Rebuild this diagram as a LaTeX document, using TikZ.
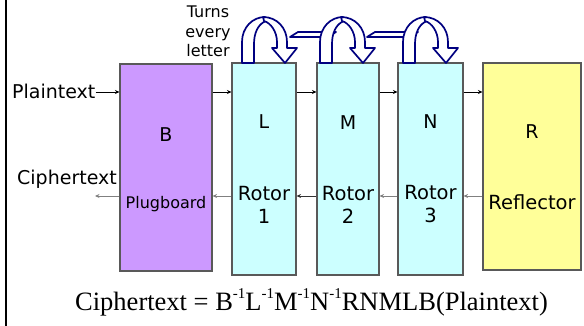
\documentclass[tikz,border=0pt]{standalone}
\usepackage{fontspec}
\usetikzlibrary{arrows.meta,calc}
\newfontfamily\vfont{DejaVu Sans}
\newfontfamily\tfont{Liberation Serif}
\definecolor{plug}{HTML}{CC99FF}
\definecolor{rot}{HTML}{CCFFFF}
\definecolor{refl}{HTML}{FFFF99}
\definecolor{navy}{HTML}{000080}
\newcommand\myinv{\raisebox{0.42em}{\fontsize{15}{15}\selectfont -1}}
\newcommand\turnarrow[1]{%
  \begin{scope}[shift={(#1,0)}]
    \draw[ribbon] (0,63) -- (0,42) .. controls (0,27) and (11,17) .. (23,17)
      -- (24,21) .. controls (16,24) and (12,33) .. (12,44) -- (12,63) -- cycle;
    \draw[ribbon] (21,17) .. controls (35,17) and (45,28) .. (45,42) -- (45,48)
      -- (55,48) -- (43,63) -- (30,48) -- (35,48) -- (35,42)
      .. controls (35,32) and (29,23) .. (22,21) -- cycle;
  \end{scope}}
\tikzset{
  box/.style={draw=black!65, line width=1.1pt, inner sep=0pt},
  lbl/.style={inner sep=0pt, font=\vfont\fontsize{19}{23}\selectfont},
  fwd/.style={line width=0.8pt, -{Stealth[length=4.5pt,width=4pt]}},
  ribbon/.style={draw=navy, fill=white, line width=1.7pt, line join=round},
}
\begin{document}
\begin{tikzpicture}[x=1pt,y=-1pt]
\useasboundingbox (0,0) rectangle (584,326);
\draw[line width=2pt] (6,0) -- (6,326);
% boxes
\node[box, fill=plug, minimum width=92pt, minimum height=207pt] (B) at (166,167.5) {};
\node[box, fill=rot, minimum width=64pt, minimum height=212pt] (L) at (264,169) {};
\node[box, fill=rot, minimum width=62pt, minimum height=212pt] (M) at (348,169) {};
\node[box, fill=rot, minimum width=65pt, minimum height=212pt] (N) at (430.5,169) {};
\node[box, fill=refl, minimum width=98pt, minimum height=207pt] (R) at (532,166.5) {};
% labels in boxes
\node[lbl, anchor=base] (Bt) at (166,142) {B};
\node[lbl, anchor=base, font=\vfont\fontsize{16}{19}\selectfont] (Bp) at (166,208) {Plugboard};
\node[lbl, anchor=base] (Lt) at (264,129) {L};
\node[lbl, anchor=base] (Mt) at (348,130) {M};
\node[lbl, anchor=base] (Nt) at (430.5,129) {N};
\node[lbl, anchor=base] (Rt) at (532,139) {R};
\node[lbl, anchor=north, align=center, font=\vfont\fontsize{19.5}{23}\selectfont] (L1) at (264,186) {Rotor\\1};
\node[lbl, anchor=north, align=center, font=\vfont\fontsize{19.5}{23}\selectfont] (M1) at (348,186) {Rotor\\2};
\node[lbl, anchor=north, align=center, font=\vfont\fontsize{19.5}{23}\selectfont] (N1) at (430.5,185) {Rotor\\3};
\node[lbl, anchor=base, font=\vfont\fontsize{19.5}{23}\selectfont] (Rr) at (532,209) {Reflector};
% outside labels
\node[lbl, anchor=base west] (pt) at (12,99) {Plaintext};
\node[lbl, anchor=base west] (ct) at (17,185) {Ciphertext};
\node[inner sep=0pt, anchor=north, align=center, font=\vfont\fontsize{16}{19.5}\selectfont] (turn) at (208,6) {Turns\\every\\letter};
% arrows
\coordinate (up) at (0,92);
\coordinate (dn) at (0,196);
\coordinate (cout) at (95,196);
\draw[fwd] (pt.east |- up) -- (B.west |- up);
\draw[fwd] (B.east |- up) -- (L.west |- up);
\draw[fwd] (L.east |- up) -- (M.west |- up);
\draw[fwd] (M.east |- up) -- (N.west |- up);
\draw[fwd] (N.east |- up) -- (R.west |- up);
\draw[fwd, gray] (R.west |- dn) -- (N.east |- dn);
\draw[fwd, gray] (N.west |- dn) -- (M.east |- dn);
\draw[fwd, black!80] (M.west |- dn) -- (L.east |- dn);
\draw[fwd, gray] (L.west |- dn) -- (B.east |- dn);
\draw[fwd, gray] (B.west |- dn) -- (cout);
% turning arrows
\draw[ribbon] (290,37) -- (298,32) -- (336,32) -- (328,37) -- cycle;
\draw[ribbon] (367,37) -- (375,32) -- (418,32) -- (410,37) -- cycle;
\turnarrow{242}
\turnarrow{320}
\turnarrow{403}
% formula
\node[inner sep=0pt, anchor=base west, font=\tfont\fontsize{26.5}{30}\selectfont] (f) at (75,310)
  {Ciphertext = B\myinv L\myinv M\myinv N\myinv RNMLB(Plaintext)};
\end{tikzpicture}
\end{document}
